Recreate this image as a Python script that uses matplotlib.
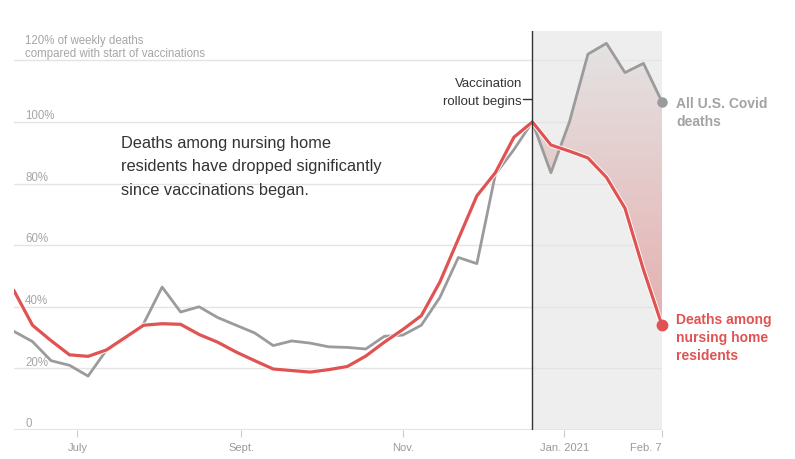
import numpy as np
import pandas as pd
import matplotlib
matplotlib.use("Agg")
import matplotlib.pyplot as plt
import matplotlib.dates as mdates
import matplotlib.patheffects as pe
from matplotlib.colors import LinearSegmentedColormap
from matplotlib.lines import Line2D

plt.rcParams["font.family"] = ["Liberation Sans", "DejaVu Sans"]

# weekly values, % of the week vaccinations started
weeks = pd.date_range("2020-06-07", "2021-02-07", freq="7D")
all_deaths = [32, 28.7, 22.5, 21, 17.5, 26, 29.5, 34.5, 46.4, 38.3, 40, 36.5,
              34, 31.5, 27.4, 28.9, 28.2, 27, 26.8, 26.3, 30.4, 30.8, 34, 43,
              56, 54, 83, 91, 100, 83.5, 100, 122, 125.5, 116, 119, 106.5]
nursing_home = [45.2, 34, 29, 24.4, 23.9, 26, 30, 34, 34.5, 34.3, 31, 28.5,
                25.3, 22.5, 19.8, 19.3, 18.8, 19.6, 20.6, 24, 28.5, 32.6, 37.1, 48,
                62, 76, 83.5, 95, 100, 92.5, 90.5, 88.3, 82, 72, 52, 34]
vacc_start = pd.Timestamp("2020-12-20")

y_ticks = [0, 20, 40, 60, 80, 100, 120]
y_labels = ["0", "20%", "40%", "60%", "80%", "100%",
            "120% of weekly deaths\ncompared with start of vaccinations"]
x_ticks = pd.to_datetime(["2020-07-01", "2020-09-01", "2020-11-01", "2021-01-01", "2021-02-07"])
x_labels = ["July", "Sept.", "Nov.", "Jan. 2021", "Feb. 7"]

RED = "#e05353"
GRAY = "#9b9b9b"
W, H = 795, 460


def px(x, y):
    return x / W, 1 - y / H


fig = plt.figure(figsize=(W / 100, H / 100), dpi=100)
ax = fig.add_axes([14 / W, 29 / H, 648 / W, 399 / H])
for s in ax.spines.values():
    s.set_visible(False)

# grid + y labels
for v, lab in zip(y_ticks, y_labels):
    ax.axhline(v, color="#e4e4e4", lw=1.5 if v == 0 else 1, zorder=1)
    ax.annotate(lab, xy=(11 / 648, v), xycoords=("axes fraction", "data"),
                xytext=(0, 0.6), textcoords="offset points", va="bottom", ha="left",
                fontsize=8.3, color="#a6a6a6", linespacing=1.2)

# shaded period after vaccinations
ax.axvspan(vacc_start, weeks[-1], color="#eeeeee", lw=0, zorder=0)

mask = weeks >= vacc_start
wk = weeks[mask]
band = ax.fill_between(wk, np.array(nursing_home)[mask], np.array(all_deaths)[mask],
                       facecolor="none", edgecolor="none")
cmap = LinearSegmentedColormap.from_list("g", ["#e6adad", "#e4e4e4"])
grad = np.linspace(0, 1, 256).reshape(-1, 1)
im = ax.imshow(grad, extent=[mdates.date2num(vacc_start), mdates.date2num(weeks[-1]), 30, 128],
               aspect="auto", origin="lower", cmap=cmap, zorder=2)
im.set_clip_path(band.get_paths()[0], transform=ax.transData)

ax.plot(weeks, all_deaths, color=GRAY, lw=2.0, zorder=3, solid_joinstyle="round")
ax.plot(weeks, nursing_home, color=RED, lw=2.3, zorder=4, solid_joinstyle="round",
        path_effects=[pe.Stroke(linewidth=3.6, foreground="white"), pe.Normal()])
ax.axvline(vacc_start, color="#333333", lw=1, zorder=5)
ax.plot(weeks[-1], all_deaths[-1], "o", color=GRAY, ms=6.5, zorder=6, clip_on=False)
ax.plot(weeks[-1], nursing_home[-1], "o", color=RED, ms=7.5, zorder=6, clip_on=False)

ax.set_xlim(weeks[0], weeks[-1])
ax.set_ylim(0, 129.5)
ax.set_yticks([])
ax.set_xticks(x_ticks)
ax.set_xticklabels(x_labels)
ax.tick_params(axis="x", length=5, color="#cccccc", labelcolor="#9a9a9a",
               labelsize=8, pad=4)
ax.get_xticklabels()[-1].set_ha("right")

# annotations
fig.text(*px(522, 93), "Vaccination\nrollout begins", ha="right", va="center",
         fontsize=9.5, color="#333333", linespacing=1.65)
fig.add_artist(Line2D([523 / W, 531 / W], [1 - 100 / H] * 2, color="#333333", lw=1))

fig.text(*px(121, 167), "Deaths among nursing home\nresidents have dropped significantly\nsince vaccinations began.",
         ha="left", va="center", fontsize=11.8, color="#333333", linespacing=1.7)

fig.text(*px(676, 113), "All U.S. Covid\ndeaths", ha="left", va="center",
         fontsize=10, fontweight="bold", color="#a3a3a3", linespacing=1.4)
fig.text(*px(676, 338), "Deaths among\nnursing home\nresidents", ha="left", va="center",
         fontsize=10, fontweight="bold", color=RED, linespacing=1.4)

fig.savefig("out.png", dpi=100)
